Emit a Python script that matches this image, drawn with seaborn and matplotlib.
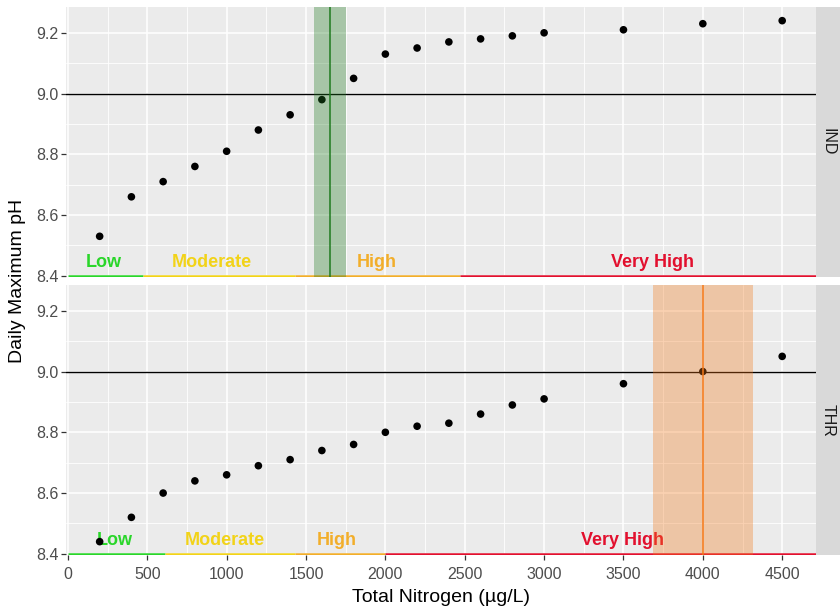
import matplotlib
matplotlib.use("Agg")
import matplotlib.pyplot as plt
import seaborn as sns
import pandas as pd
import numpy as np

# ---------------- data ----------------
tn_values = [200, 400, 600, 800, 1000, 1200, 1400, 1600, 1800, 2000,
             2200, 2400, 2600, 2800, 3000, 3500, 4000, 4500]
ind_ph = [8.53, 8.66, 8.71, 8.76, 8.81, 8.88, 8.93, 8.98, 9.05, 9.13,
          9.15, 9.17, 9.18, 9.19, 9.20, 9.21, 9.23, 9.24]
thr_ph = [8.44, 8.52, 8.60, 8.64, 8.66, 8.69, 8.71, 8.74, 8.76, 8.80,
          8.82, 8.83, 8.86, 8.89, 8.91, 8.96, 9.00, 9.05]
sites = ["IND", "THR"]

category_names = ["Low", "Moderate", "High", "Very High"]
category_colors = ["#2AD62A", "#F2D318", "#F2AE2A", "#E2102E"]
ind_cat_start = [0, 470, 1430, 2470]
ind_cat_end = [470, 1430, 2470, 5000]
thr_cat_start = [0, 610, 1430, 2000]
thr_cat_end = [610, 1430, 2000, 5000]
ind_label_x = [225, 907, 1947, 3686]
thr_label_x = [296, 989, 1695, 3497]

threshold_ph = 9.0
ind_cp = 1650
ind_cp_low, ind_cp_high = 1550, 1750
thr_cp = 4000
thr_cp_low, thr_cp_high = 3685, 4315
band_colors = ["#1F7A1F", "#F47818"]

df = pd.DataFrame({
    "tn": tn_values * 2,
    "ph": ind_ph + thr_ph,
    "site": ["IND"] * len(tn_values) + ["THR"] * len(tn_values),
})

# ---------------- style ----------------
sns.set_theme(style="darkgrid", rc={
    "axes.facecolor": "#EBEBEB",
    "grid.color": "white",
    "axes.edgecolor": "#EBEBEB",
})
plt.rcParams["font.family"] = ["Liberation Sans", "DejaVu Sans"]

W, H = 840, 612
fig = plt.figure(figsize=(W / 100, H / 100), dpi=100)

left_px, right_px = 66, 816
panels_px = [(7, 277), (285, 555)]
xlim = (-12, 4713)
ylim = (8.396, 9.285)

cat_starts = [ind_cat_start, thr_cat_start]
cat_ends = [ind_cat_end, thr_cat_end]
label_xs = [ind_label_x, thr_label_x]
cps = [(ind_cp, ind_cp_low, ind_cp_high), (thr_cp, thr_cp_low, thr_cp_high)]

axes = []
for i, (top, bot) in enumerate(panels_px):
    ax = fig.add_axes([left_px / W, 1 - bot / H, (right_px - left_px) / W, (bot - top) / H])
    axes.append(ax)
    site = sites[i]
    sub = df[df["site"] == site]

    ax.set_xlim(*xlim)
    ax.set_ylim(*ylim)
    ax.set_xticks([0, 500, 1000, 1500, 2000, 2500, 3000, 3500, 4000, 4500])
    ax.set_xticks(np.arange(250, 4750, 500), minor=True)
    ax.set_yticks([8.4, 8.6, 8.8, 9.0, 9.2])
    ax.set_yticks([8.5, 8.7, 8.9, 9.1], minor=True)
    ax.grid(which="major", color="white", lw=1.1)
    ax.grid(which="minor", color="white", lw=0.6)
    ax.set_axisbelow(True)
    for s in ax.spines.values():
        s.set_visible(False)

    # category segments and labels
    for name, col, xs, xe, lx in zip(category_names, category_colors,
                                     cat_starts[i], cat_ends[i], label_xs[i]):
        ax.hlines(8.4, xs, xe, color=col, lw=1.8, zorder=2)
        ax.text(lx, 8.443, name, color=col, fontsize=13, fontweight="bold",
                ha="center", va="center", zorder=3)

    # points
    sns.scatterplot(data=sub, x="tn", y="ph", ax=ax, color="black",
                    s=30, edgecolor="none", zorder=4, legend=False)

    ax.axhline(threshold_ph, color="black", lw=1.0, zorder=5)

    cp, lo, hi = cps[i]
    ax.axvspan(lo, hi, color=band_colors[i], alpha=0.33, lw=0, zorder=6)
    ax.axvline(cp, color=band_colors[i], lw=1.1, zorder=7)

    ax.tick_params(axis="both", which="major", length=3.5, width=0.9,
                   color="#333333", labelcolor="#4D4D4D", labelsize=11.5,
                   direction="out", pad=2, bottom=True, left=True)
    ax.tick_params(axis="x", which="major", pad=5)
    ax.tick_params(axis="both", which="minor", length=0)
    ax.set_xlabel("")
    ax.set_ylabel("")
    if i == 0:
        ax.tick_params(axis="x", which="major", bottom=False, labelbottom=False)
    ax.yaxis.set_major_formatter(matplotlib.ticker.FormatStrFormatter("%.1f"))

    # strip on the right
    sax = fig.add_axes([right_px / W, 1 - bot / H, (W - right_px) / W, (bot - top) / H])
    sax.set_facecolor("#D9D9D9")
    sax.set_xticks([])
    sax.set_yticks([])
    sax.grid(False)
    for s in sax.spines.values():
        s.set_visible(False)
    sax.text(0.5, 0.5, site, rotation=-90, ha="center", va="center",
             fontsize=11.5, color="#1A1A1A", transform=sax.transAxes)

fig.text((left_px + right_px) / 2 / W, 1 - 598 / H, "Total Nitrogen (µg/L)",
         ha="center", va="center", fontsize=14, color="black")
fig.text(18 / W, 1 - 281 / H, "Daily Maximum pH", rotation=90,
         ha="center", va="center", fontsize=14, color="black")

fig.savefig("out.png", dpi=100, facecolor="white")
